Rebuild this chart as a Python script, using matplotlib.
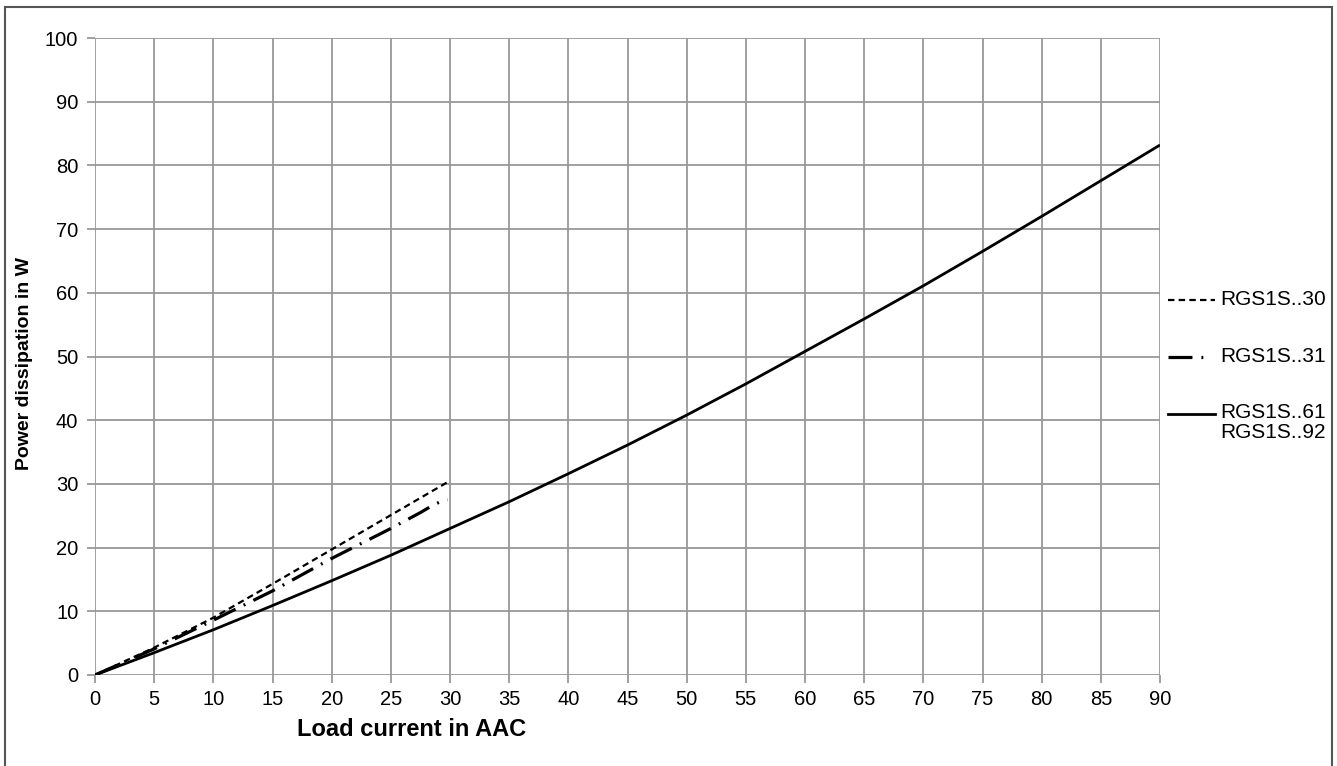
import matplotlib
matplotlib.use("Agg")
import matplotlib.pyplot as plt
from matplotlib.lines import Line2D
from matplotlib.patches import Rectangle

plt.rcParams['font.family'] = ['Liberation Sans', 'DejaVu Sans']

# Data
x_61 = [0, 5, 10, 15, 20, 25, 30, 35, 40, 45, 50, 55, 60, 65, 70, 75, 80, 85, 90]
y_61 = [0, 3.5, 7.1, 10.9, 14.8, 18.8, 23.0, 27.2, 31.6, 36.1, 40.8, 45.7, 50.8, 55.9, 61.1, 66.5, 72.0, 77.6, 83.2]

x_30 = [0, 5, 10, 15, 20, 25, 30]
y_30 = [0, 4.3, 9.0, 14.3, 19.7, 25.1, 30.5]

x_31 = [0, 5, 10, 15, 20, 25, 27.5, 28.5, 29.3, 29.8]
y_31 = [0, 4.1, 8.6, 13.2, 18.3, 23.0, 25.5, 26.6, 27.3, 27.5]

labels = ["RGS1S..30", "RGS1S..31", "RGS1S..61\nRGS1S..92"]
xticks = list(range(0, 91, 5))
yticks = list(range(0, 101, 10))

W, H = 1337, 766
fig = plt.figure(figsize=(W / 100, H / 100), dpi=100)
ax = fig.add_axes([95 / W, 1 - 675 / H, (1160 - 95) / W, (675 - 38) / H])

DASHED = (2.9, 1.9)
DASHDOT = (7.5, 2.8, 0.6, 2.8)

ax.plot(x_30, y_30, color='black', lw=1.6, dashes=DASHED)
ax.plot(x_31, y_31, color='black', lw=2.3, dashes=DASHDOT)
ax.plot(x_61, y_61, color='black', lw=2.0, solid_capstyle='butt')

ax.set_xlim(0, 90)
ax.set_ylim(0, 100)
ax.set_xticks(xticks)
ax.set_yticks(yticks)
ax.grid(True, color='#999999', lw=1.3)
ax.set_axisbelow(True)
for s in ax.spines.values():
    s.set_visible(False)
ax.tick_params(axis='both', color='#999999', length=6, width=1.3, labelsize=14.5)
ax.tick_params(axis='y', pad=6)
ax.tick_params(axis='x', pad=5)
ax.set_xlabel("Load current in AAC", fontsize=17, fontweight='bold', va='center', ha='center')
ax.xaxis.set_label_coords((412 - 95) / 1065, (675 - 730) / 637)
ax.set_ylabel("Power dissipation in W", fontsize=14, fontweight='bold', va='center', ha='center')
ax.yaxis.set_label_coords((25 - 95) / 1065, 1 - (364 - 38) / 637)

# Legend (drawn manually in figure coordinates)
def fx(px):
    return px / W

def fy(py):
    return 1 - py / H

fig.add_artist(Line2D([fx(1168), fx(1215)], [fy(300), fy(300)], color='black', lw=1.6, dashes=DASHED))
fig.text(fx(1220), fy(300), labels[0], fontsize=15, va='center', ha='left')
fig.add_artist(Line2D([fx(1168), fx(1206)], [fy(357), fy(357)], color='black', lw=2.3, dashes=DASHDOT))
fig.text(fx(1220), fy(357), labels[1], fontsize=15, va='center', ha='left')
fig.add_artist(Line2D([fx(1168), fx(1215)], [fy(414), fy(414)], color='black', lw=2.0))
fig.text(fx(1220), fy(403), labels[2], fontsize=15, va='top', ha='left', linespacing=1.05)

# Figure border
fig.add_artist(Rectangle((fx(5), -0.02), fx(1332) - fx(5), fy(7) + 0.02,
                         transform=fig.transFigure, fill=False, edgecolor='#555555', lw=1.5))

fig.savefig("out.png", dpi=100)
